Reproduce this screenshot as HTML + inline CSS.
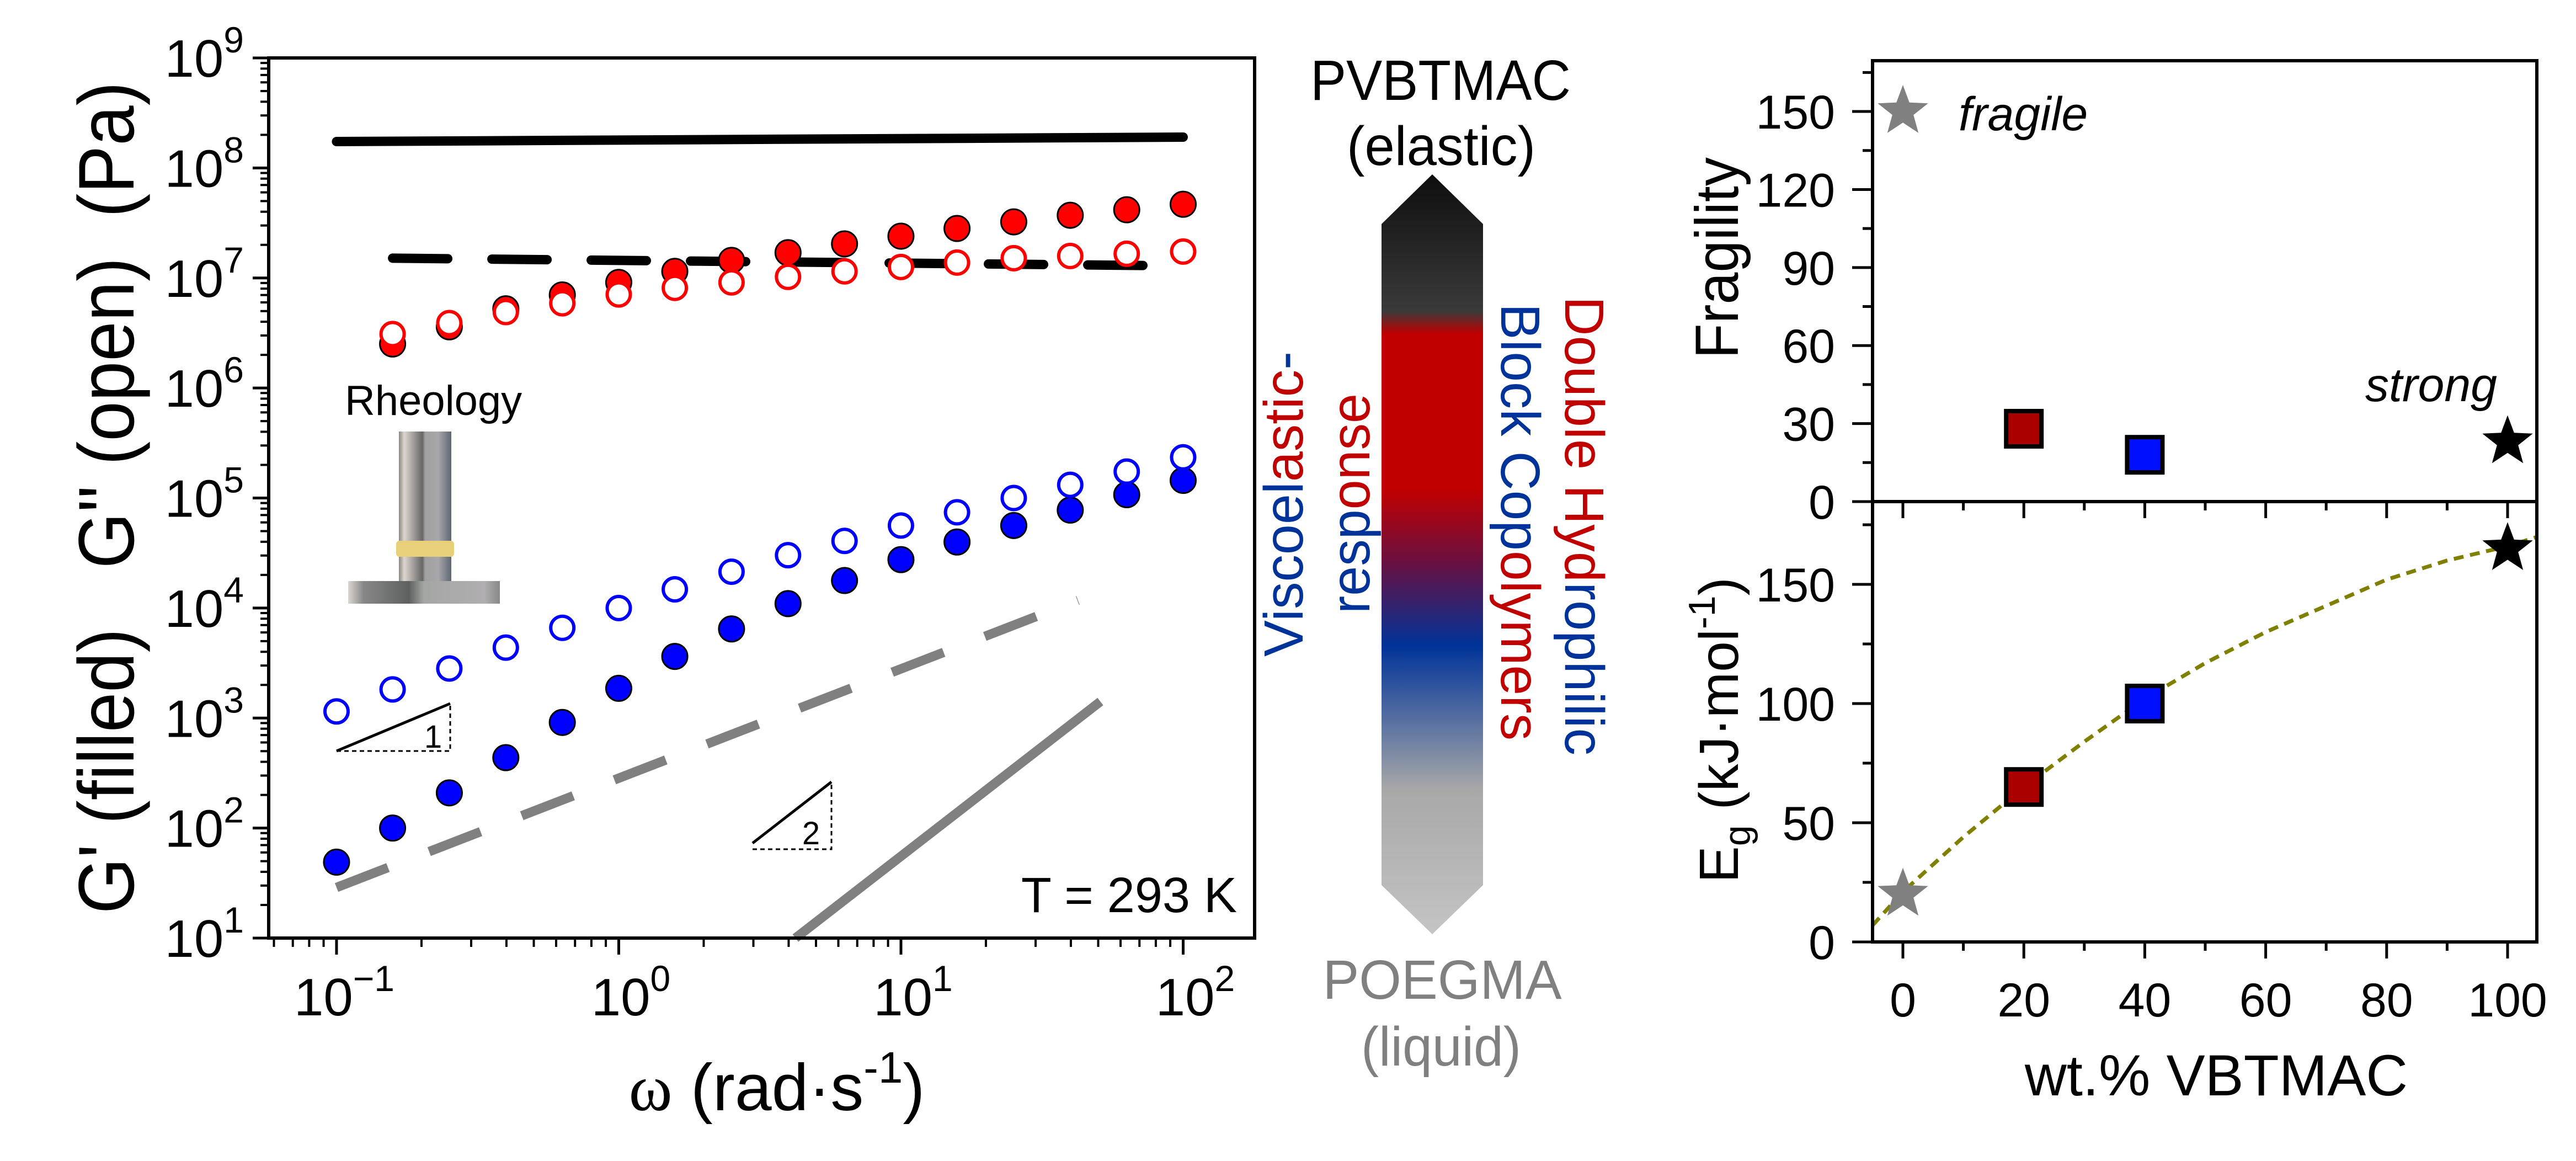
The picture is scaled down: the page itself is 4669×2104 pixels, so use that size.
<!DOCTYPE html>
<html><head><meta charset="utf-8">
<style>
html,body{margin:0;padding:0;background:#fff;}
svg{display:block;font-family:"Liberation Sans",Arial,sans-serif;}
</style></head>
<body>
<svg id="fig" width="4669" height="2104" viewBox="0 0 4669 2104" xmlns="http://www.w3.org/2000/svg">
<defs>
<linearGradient id="arrowGrad" x1="0" y1="0" x2="0" y2="1">
<stop offset="0" stop-color="#0e0e0e"/>
<stop offset="0.18" stop-color="#3a3a3a"/>
<stop offset="0.21" stop-color="#c00000"/>
<stop offset="0.415" stop-color="#c00000"/>
<stop offset="0.51" stop-color="#6a1040"/>
<stop offset="0.62" stop-color="#003399"/>
<stop offset="0.81" stop-color="#a8a8a8"/>
<stop offset="1" stop-color="#c4c4c4"/>
</linearGradient>
<linearGradient id="metal" x1="0" y1="0" x2="1" y2="0">
<stop offset="0" stop-color="#8a8580"/><stop offset="0.1" stop-color="#ddd6d0"/>
<stop offset="0.45" stop-color="#666"/><stop offset="0.5" stop-color="#a0a0a0"/>
<stop offset="0.75" stop-color="#a8a8ac"/><stop offset="1" stop-color="#5e6670"/>
</linearGradient>
<linearGradient id="metal2" x1="0" y1="0" x2="1" y2="0">
<stop offset="0" stop-color="#ddd6d0"/><stop offset="0.1" stop-color="#888"/>
<stop offset="0.4" stop-color="#5e6060"/><stop offset="0.5" stop-color="#a4a6a4"/>
<stop offset="0.9" stop-color="#b0aeb0"/><stop offset="1" stop-color="#888"/>
</linearGradient>
</defs>

<g id="left"></g>
<g id="center">
<text x="2611" y="181" font-size="103" text-anchor="middle" textLength="472" lengthAdjust="spacingAndGlyphs">PVBTMAC</text>
<text x="2612" y="299" font-size="100" text-anchor="middle" textLength="342" lengthAdjust="spacingAndGlyphs">(elastic)</text>
<polygon points="2596,316 2688,406 2688,1604 2596,1693 2504,1604 2504,406" fill="url(#arrowGrad)"/>
<text x="2614" y="1810" font-size="100" fill="#808080" text-anchor="middle" textLength="433" lengthAdjust="spacingAndGlyphs">POEGMA</text>
<text x="2612" y="1931" font-size="100" fill="#808080" text-anchor="middle" textLength="290" lengthAdjust="spacingAndGlyphs">(liquid)</text>
<text transform="translate(2361,1190) rotate(-90)" font-size="100" textLength="553" lengthAdjust="spacingAndGlyphs"><tspan fill="#003399">Viscoel</tspan><tspan fill="#c00000">astic</tspan><tspan fill="#003399">-</tspan></text>
<text transform="translate(2482,1112) rotate(-90)" font-size="100" textLength="399" lengthAdjust="spacingAndGlyphs"><tspan fill="#003399">resp</tspan><tspan fill="#c00000">onse</tspan></text>
<text transform="translate(2721,550) rotate(90)" font-size="100" textLength="792" lengthAdjust="spacingAndGlyphs"><tspan fill="#003399">Block Cop</tspan><tspan fill="#c00000">olymers</tspan></text>
<text transform="translate(2837,537) rotate(90)" font-size="100" textLength="832" lengthAdjust="spacingAndGlyphs"><tspan fill="#c00000">Double Hyd</tspan><tspan fill="#003399">rophilic</tspan></text>
</g>
<g id="right"></g>
</svg>

<script>
// ---------- LEFT CHART DATA ----------
const omega = [0.1,0.158,0.251,0.398,0.631,1,1.58,2.51,3.98,6.31,10,15.8,25.1,39.8,63.1,100];
const redFilledLog = [null,6.40,6.556,6.72,6.846,6.96,7.06,7.16,7.23,7.31,7.38,7.45,7.51,7.57,7.62,7.67];
const redOpenLog   = [null,6.49,6.59,6.69,6.77,6.85,6.91,6.96,7.01,7.06,7.10,7.14,7.18,7.20,7.22,7.24];
const blueOpenLog  = [3.06,3.26,3.45,3.64,3.82,4.0,4.17,4.33,4.48,4.61,4.75,4.87,5.0,5.12,5.24,5.37];
const blueFilledLog= [1.69,2.0,2.32,2.64,2.96,3.27,3.56,3.81,4.04,4.25,4.44,4.60,4.75,4.89,5.03,5.16];
const blackSolidX = [0.1,100];   const blackSolidLog = [8.24,8.28];
const blackDashX  = [0.158,100]; const blackDashLog  = [7.18,7.11];
const grayDashX   = [0.1,42.4];  const grayDashLog   = [1.46,4.07];
const graySolidX  = [4.23,50.9]; const graySolidLog  = [1.0,3.15];
const yTickExp = [1,2,3,4,5,6,7,8,9];
const xTickExp = [-1,0,1,2];

// ---------- RIGHT CHART DATA ----------
const wt = [0,20,40,100];
const fragility = [150,28,18,23];
const energy = [20,65,100,165];
const markerKind = ['star','square','square','star'];
const markerColor = ['#808080','#aa0000','#0010ff','#000000'];
const fitX = [-5,0,10,20,30,40,50,60,70,80,90,100,105];
const fitY = [7,21,44,65,84,102,117,130,141,152,160,166,170];
const fragTicks = [0,30,60,90,120,150];
const energyTicks = [0,50,100,150];
const wtTicks = [0,20,40,60,80,100];

const NS = 'http://www.w3.org/2000/svg';
function mk(parent, tag, attrs, text){
  const e = document.createElementNS(NS, tag);
  for (const k in attrs) e.setAttribute(k, attrs[k]);
  if (text !== undefined) e.textContent = text;
  parent.appendChild(e); return e;
}

const L = {x0:487, x1:2274, y0:1700, y1:105};
const lxMin=-1.2404, lxMax=2.2532, lyMin=1, lyMax=9;
const lx = v => L.x0 + (Math.log10(v)-lxMin)/(lxMax-lxMin)*(L.x1-L.x0);
const lyLog = lg => L.y0 - (lg-lyMin)/(lyMax-lyMin)*(L.y0-L.y1);
const left = document.getElementById('left');

let e;
e = mk(left,'line',{x1:lx(grayDashX[0]),y1:lyLog(grayDashLog[0]),x2:lx(grayDashX[1]),y2:lyLog(grayDashLog[1]),stroke:'#808080','stroke-width':17,'stroke-dasharray':'100 80'});


e = mk(left,'line',{x1:lx(graySolidX[0]),y1:lyLog(graySolidLog[0]),x2:lx(graySolidX[1]),y2:lyLog(graySolidLog[1]),stroke:'#808080','stroke-width':17});


e = mk(left,'line',{x1:lx(blackSolidX[0]),y1:lyLog(blackSolidLog[0]),x2:lx(blackSolidX[1]),y2:lyLog(blackSolidLog[1]),stroke:'#000','stroke-width':17,'stroke-linecap':'round'});


e = mk(left,'line',{x1:lx(blackDashX[0]),y1:lyLog(blackDashLog[0]),x2:lx(blackDashX[1]),y2:lyLog(blackDashLog[1]),stroke:'#000','stroke-width':17,'stroke-dasharray':'100 80','stroke-linecap':'round'});



function circles(arr, color, filled, name){
  arr.forEach((lg,i)=>{
    if (lg===null) return;
    const c = mk(left,'circle',{cx:lx(omega[i]),cy:lyLog(lg),r:filled?23:21,
      fill:filled?color:'#fff',stroke:filled?'#000':color,'stroke-width':filled?3:6});
    
    
  });
}
circles(redFilledLog,'#ff0000',true,'red-g-prime-point');
circles(redOpenLog,'#ff0000',false,'red-g-double-prime-point');
circles(blueFilledLog,'#0000ff',true,'blue-g-prime-point');
circles(blueOpenLog,'#0000ff',false,'blue-g-double-prime-point');

e = mk(left,'rect',{x:L.x0,y:L.y1,width:L.x1-L.x0,height:L.y0-L.y1,fill:'none',stroke:'#000','stroke-width':6});


yTickExp.forEach(p=>{
  const y = lyLog(p);
  mk(left,'line',{x1:L.x0-29,y1:y,x2:L.x0,y2:y,stroke:'#000','stroke-width':5});
  if (p<9) for(let m=2;m<=9;m++){const ym=lyLog(p+Math.log10(m)); mk(left,'line',{x1:L.x0-15,y1:ym,x2:L.x0,y2:ym,stroke:'#000','stroke-width':4});}
  const t = mk(left,'text',{x:442,y:y+34,'font-size':96,'text-anchor':'end'});
  mk(t,'tspan',{},'10'); mk(t,'tspan',{'font-size':66,dy:-44},String(p));
  
  
});
for (let p=-2;p<=2;p++){
  for(let m=1;m<=9;m++){
    const v = m*Math.pow(10,p); const x = lx(v);
    if (x<L.x0||x>L.x1) continue;
    mk(left,'line',{x1:x,y1:L.y0,x2:x,y2:L.y0+(m===1?30:16),stroke:'#000','stroke-width':m===1?5:4});
  }
}
xTickExp.forEach(p=>{
  const x = lx(Math.pow(10,p));
  const t = mk(left,'text',{x:x+(p<0?14:22),y:1840,'font-size':96,'text-anchor':'middle'});
  mk(t,'tspan',{},'10'); mk(t,'tspan',{'font-size':66,dy:-44},p<0?'\u2212'+(-p):String(p));
  
  
});
e = mk(left,'text',{transform:'translate(242,1656) rotate(-90)','font-size':143,textLength:1508,lengthAdjust:'spacingAndGlyphs',style:'white-space:pre'},"G' (filled)   G'' (open)  (Pa)");


e = mk(left,'text',{x:1408,y:2012,'font-size':120,'text-anchor':'middle'});
mk(e,'tspan',{'font-family':'Liberation Serif, serif'},'\u03c9');
mk(e,'tspan',{},' (rad\u00b7s');
mk(e,'tspan',{'font-size':80,dy:-50},'-1');
mk(e,'tspan',{dy:50},')');


e = mk(left,'text',{x:2242,y:1653,'font-size':90,'text-anchor':'end'},'T = 293 K');


const tri = mk(left,'g',{});


mk(tri,'line',{x1:610,y1:1361,x2:816,y2:1275,stroke:'#000','stroke-width':5});
mk(tri,'polyline',{points:'610,1361 816,1361 816,1275',fill:'none',stroke:'#000','stroke-width':3,'stroke-dasharray':'8 6'});
mk(tri,'text',{x:785,y:1355,'font-size':58,'text-anchor':'middle'},'1');
const tri2 = mk(left,'g',{});


mk(tri2,'line',{x1:1364,y1:1528,x2:1507,y2:1417,stroke:'#000','stroke-width':5});
mk(tri2,'polyline',{points:'1364,1539 1507,1539 1507,1417',fill:'none',stroke:'#000','stroke-width':3,'stroke-dasharray':'8 6'});
mk(tri2,'text',{x:1470,y:1530,'font-size':58,'text-anchor':'middle'},'2');
const rh = mk(left,'g',{});


mk(rh,'text',{x:625,y:752,'font-size':76},'Rheology');
mk(rh,'rect',{x:723,y:782,width:95,height:271,fill:'url(#metal)'});
mk(rh,'rect',{x:718,y:980,width:105,height:29,rx:6,fill:'#e8d07a'});
mk(rh,'rect',{x:631,y:1053,width:275,height:41,fill:'url(#metal2)'});

// ----- right charts -----
const R = {x0:3394, x1:4598, top:110, mid:909, bot:1707};
const rx = v => 3449 + v*(4545-3449)/100;
const fy = v => R.mid - v*4.713;
const ey = v => R.bot - v*4.32;
const right = document.getElementById('right');

e = mk(right,'polyline',{points:fitX.map((x,i)=>rx(x)+','+ey(fitY[i])).join(' '),fill:'none',stroke:'#808000','stroke-width':7,'stroke-dasharray':'18 12'});



function star(cx,cy,R1,color){
  const pts=[];
  for(let k=0;k<10;k++){const a=-Math.PI/2+k*Math.PI/5; const r=k%2?R1*0.42:R1; pts.push((cx+r*Math.cos(a)).toFixed(1)+','+(cy+r*Math.sin(a)).toFixed(1));}
  return mk(right,'polygon',{points:pts.join(' '),fill:color});
}
function marker(i, yfun, name){
  const cx = rx(wt[i]), cy = yfun(i);
  let m;
  if (markerKind[i]==='star') m = star(cx,cy,48,markerColor[i]);
  else m = mk(right,'rect',{x:cx-32,y:cy-32,width:64,height:64,fill:markerColor[i],stroke:'#000','stroke-width':8});
  
  
}
wt.forEach((w,i)=>marker(i, j=>fy(fragility[j]), 'fragility-point'));
wt.forEach((w,i)=>marker(i, j=>ey(energy[j]), 'energy-point'));

e = mk(right,'rect',{x:R.x0,y:R.top,width:R.x1-R.x0,height:R.bot-R.top,fill:'none',stroke:'#000','stroke-width':6});


mk(right,'line',{x1:R.x0,y1:R.mid,x2:R.x1,y2:R.mid,stroke:'#000','stroke-width':6});
for (let v=0; v<=165; v+=15){
  const y=fy(v), maj = v%30===0;
  mk(right,'line',{x1:R.x0-(maj?37:18),y1:y,x2:R.x0,y2:y,stroke:'#000','stroke-width':5});
}
fragTicks.forEach(v=>{
  const t = mk(right,'text',{x:3326,y:fy(v)+31,'font-size':86,'text-anchor':'end'},String(v));
  
  
});
for (let v=0; v<=180; v+=25){
  const y=ey(v), maj = v%50===0;
  mk(right,'line',{x1:R.x0-(maj?37:18),y1:y,x2:R.x0,y2:y,stroke:'#000','stroke-width':5});
}
energyTicks.forEach(v=>{
  const t = mk(right,'text',{x:3326,y:ey(v)+31,'font-size':86,'text-anchor':'end'},String(v));
  
  
});
for (let v=0; v<=100; v+=10){
  const x=rx(v), maj=v%20===0;
  mk(right,'line',{x1:x,y1:R.bot,x2:x,y2:R.bot+(maj?30:16),stroke:'#000','stroke-width':5});
  mk(right,'line',{x1:x,y1:R.mid,x2:x,y2:R.mid+(maj?30:16),stroke:'#000','stroke-width':5});
}
wtTicks.forEach(v=>{
  const t = mk(right,'text',{x:rx(v),y:1842,'font-size':86,'text-anchor':'middle'},String(v));
  
  
});
e = mk(right,'text',{transform:'translate(3150,650) rotate(-90)','font-size':110,textLength:365,lengthAdjust:'spacingAndGlyphs'},'Fragility');


e = mk(right,'text',{transform:'translate(3150,1600) rotate(-90)','font-size':100});
mk(e,'tspan',{},'E');
mk(e,'tspan',{'font-size':68,dy:22},'g');
mk(e,'tspan',{dy:-22},' (kJ\u00b7mol');
mk(e,'tspan',{'font-size':68,dy:-42},'-1');
mk(e,'tspan',{dy:42},')');


e = mk(right,'text',{x:4017,y:1985,'font-size':105,'text-anchor':'middle'},'wt.% VBTMAC');


e = mk(right,'text',{x:3550,y:236,'font-size':86,'font-style':'italic'},'fragile');


e = mk(right,'text',{x:4526,y:727,'font-size':86,'font-style':'italic','text-anchor':'end'},'strong');


</script>
</body></html>
